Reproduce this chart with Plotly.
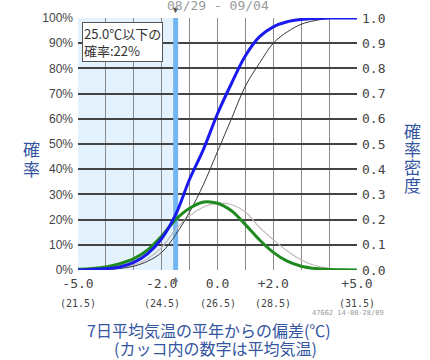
import plotly.graph_objects as go

# Deviation from normal 7-day mean temperature (deg C)
x_dev = [-5.0, -4.5, -4.0, -3.5, -3.0, -2.5, -2.0, -1.5, -1.0, -0.5, 0.0,
         0.5, 1.0, 1.5, 2.0, 2.5, 3.0, 3.5, 4.0, 4.5, 5.0]

# Cumulative probability: forecast and climatology
cdf_forecast = [0.0, 0.002, 0.005, 0.012, 0.03, 0.065, 0.125, 0.22, 0.36, 0.48, 0.62,
                0.74, 0.85, 0.925, 0.965, 0.985, 0.994, 0.998, 1.0, 1.0, 1.0]
cdf_climate = [0.0, 0.001, 0.002, 0.006, 0.015, 0.035, 0.07, 0.14, 0.23, 0.34, 0.47,
               0.6, 0.73, 0.82, 0.9, 0.945, 0.975, 0.99, 0.998, 1.0, 1.0]

# Probability density: forecast and climatology
pdf_forecast = [0.003, 0.006, 0.012, 0.025, 0.045, 0.08, 0.135, 0.2, 0.245, 0.27, 0.265,
                0.235, 0.18, 0.12, 0.07, 0.035, 0.015, 0.006, 0.002, 0.001, 0.0]
pdf_climate = [0.001, 0.002, 0.004, 0.01, 0.02, 0.045, 0.09, 0.16, 0.215, 0.25, 0.265,
               0.26, 0.23, 0.17, 0.12, 0.075, 0.04, 0.018, 0.007, 0.002, 0.0]

normal_temp = 26.5
threshold_dev = -1.5
threshold_prob = 22

x_grid = [-5, -4, -3, -2, -1, 0, 1, 2, 3, 4, 5]
x_labeled = [-5.0, -2.0, 0.0, 2.0, 5.0]
y_ticks = [i / 10 for i in range(11)]
y_left_text = [f"{i * 10}%" for i in range(11)]
y_right_text = [f"{v:.1f}" for v in y_ticks]

period_text = "08/29 - 09/04"
station_text = "47662 14-08-28/09"
left_title = "確率"
right_title = "確率密度"
x_title_1 = "7日平均気温の平年からの偏差(℃)"
x_title_2 = "(カッコ内の数字は平均気温)"

blue_title = "#34559f"

W, H = 430, 360
L, R, T, B = 78, 73, 18, 90
PW, PH = W - L - R, H - T - B


def paper_x(px):
    return (px - L) / PW


def paper_y(py):
    return (H - B - py) / PH


def label_fmt(v):
    return "0.0" if v == 0 else f"{v:+.1f}"


fig = go.Figure()

# threshold bar
fig.add_trace(go.Scatter(x=[threshold_dev, threshold_dev], y=[0, 1], mode="lines",
                         line=dict(color="#74b6f2", width=5), hoverinfo="skip",
                         showlegend=False))
fig.add_trace(go.Scatter(x=x_dev, y=pdf_climate, mode="lines", line_shape="spline",
                         line=dict(color="#c4b8b8", width=1.2), showlegend=False))
fig.add_trace(go.Scatter(x=x_dev, y=cdf_climate, mode="lines", line_shape="spline",
                         line=dict(color="#3a3a3a", width=1), showlegend=False))
fig.add_trace(go.Scatter(x=x_dev, y=pdf_forecast, mode="lines", line_shape="spline",
                         line=dict(color="#1f8a1f", width=3), showlegend=False))
fig.add_trace(go.Scatter(x=x_dev, y=cdf_forecast, mode="lines", line_shape="spline",
                         line=dict(color="#1a1aee", width=3), showlegend=False))
# right-hand density axis
fig.add_trace(go.Scatter(x=[x_dev[0]], y=[0], yaxis="y2", mode="markers",
                         marker=dict(opacity=0), hoverinfo="skip", showlegend=False))

# shaded region below threshold
fig.add_shape(type="rect", xref="x", yref="y", x0=x_dev[0], x1=threshold_dev, y0=0, y1=1,
              fillcolor="#e3f2fd", line_width=0, layer="below")

fig.update_layout(
    width=W, height=H,
    margin=dict(l=L, r=R, t=T, b=B),
    paper_bgcolor="white", plot_bgcolor="white",
    xaxis=dict(range=[-5, 5], tickvals=x_grid,
               ticktext=[label_fmt(v) if v in x_labeled else "" for v in x_grid],
               showgrid=True, gridcolor="#8a8a8a", gridwidth=1.2, zeroline=False,
               showline=False, ticks="", ticklabelstandoff=4,
               tickfont=dict(family="DejaVu Sans Mono", size=13, color="#444444")),
    yaxis=dict(range=[0, 1], tickvals=y_ticks, ticktext=y_left_text,
               showgrid=True, gridcolor="#444444", gridwidth=1.5, zeroline=False,
               ticks="", ticklabelstandoff=4,
               tickfont=dict(family="Liberation Sans", size=12, color="#444444")),
    yaxis2=dict(range=[0, 1], tickvals=y_ticks, ticktext=y_right_text, overlaying="y",
                side="right", showgrid=False, zeroline=False, ticks="", ticklabelstandoff=4,
                tickfont=dict(family="DejaVu Sans Mono", size=13, color="#444444")),
)

ann = []
# parenthetical mean temperatures
for v in x_labeled:
    ann.append(dict(x=v, y=0, xref="x", yref="paper", yanchor="top", yshift=-26,
                    text=f"({normal_temp + v:.1f})", showarrow=False,
                    font=dict(family="DejaVu Sans Mono", size=10, color="#444444")))

# vertical axis titles, one character per row
for i, ch in enumerate(left_title):
    ann.append(dict(x=paper_x(31), y=paper_y(149 + 19 * i), xref="paper", yref="paper",
                    xanchor="center", yanchor="middle", text=ch, showarrow=False,
                    font=dict(family="Noto Sans CJK JP", size=17, color=blue_title)))
for i, ch in enumerate(right_title):
    ann.append(dict(x=paper_x(413), y=paper_y(130 + 18.3 * i), xref="paper", yref="paper",
                    xanchor="center", yanchor="middle", text=ch, showarrow=False,
                    font=dict(family="Noto Sans CJK JP", size=17, color=blue_title)))

ann += [
    # threshold markers above and below the plot
    dict(x=threshold_dev, y=1, xref="x", yref="paper", yanchor="middle", yshift=9,
         text="▼", showarrow=False, font=dict(size=9, color="#555555")),
    dict(x=threshold_dev, y=0, xref="x", yref="paper", yanchor="middle", yshift=-8,
         text="▲", showarrow=False, font=dict(size=9, color="#777777")),
    dict(x=0.5, y=paper_y(6), xref="paper", yref="paper", yanchor="middle",
         text=period_text, showarrow=False,
         font=dict(family="DejaVu Sans Mono", size=13, color="#9a9a9a")),
    dict(x=-4.87, y=0.985, xref="x", yref="y", xanchor="left", yanchor="top", align="left",
         text=f"{normal_temp + threshold_dev:.1f}℃以下の<br>確率:{threshold_prob}%",
         showarrow=False, bgcolor="white", bordercolor="#555555", borderwidth=1, borderpad=1,
         font=dict(family="Noto Sans CJK JP", size=13, color="#333333")),
    dict(x=paper_x(348), y=paper_y(313), xref="paper", yref="paper",
         xanchor="center", yanchor="middle", text=station_text, showarrow=False,
         font=dict(family="DejaVu Sans Mono", size=7, color="#999999")),
    dict(x=paper_x(209), y=paper_y(330), xref="paper", yref="paper",
         xanchor="center", yanchor="middle", text=x_title_1, showarrow=False,
         font=dict(family="Noto Sans CJK JP", size=16, color=blue_title)),
    dict(x=paper_x(215), y=paper_y(348), xref="paper", yref="paper",
         xanchor="center", yanchor="middle", text=x_title_2, showarrow=False,
         font=dict(family="Noto Sans CJK JP", size=16, color=blue_title)),
]
fig.update_layout(annotations=ann)

fig.write_html("out.html")
